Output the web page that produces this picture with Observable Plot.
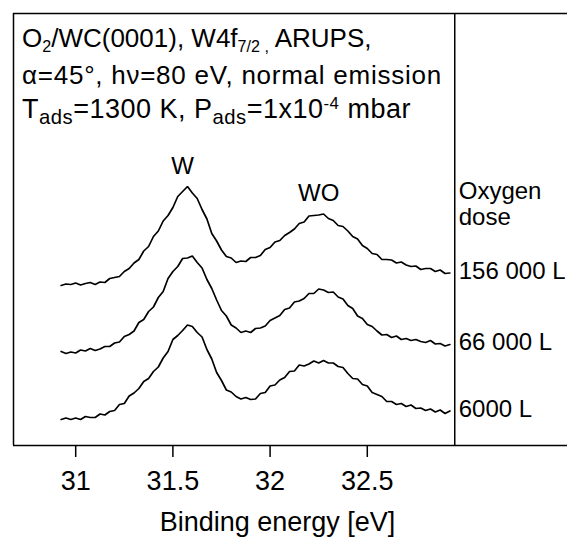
<!DOCTYPE html>
<html>
<head>
<meta charset="utf-8">
<script src="https://cdn.jsdelivr.net/npm/d3@7"></script>
<script src="https://cdn.jsdelivr.net/npm/@observablehq/plot@0.6"></script>
<style>
  body { margin: 0; background: #fff; }
  #chart { position: relative; width: 567px; height: 542px; font-family: "Liberation Sans", Arial, sans-serif; color: #000; }
  #note { position: absolute; left: 22px; top: 21px; font-size: 26px; line-height: 34px; white-space: nowrap; }
  #note .l2 { letter-spacing: 0.75px; }
  #note .l3 { font-size: 27px; letter-spacing: 0.5px; }
  .sb { font-size: 0.62em; position: relative; top: 0.32em; }
  .l3 .sb { font-size: 0.75em; top: 0.3em; }
  .sp { font-size: 0.62em; position: relative; top: -0.55em; }
</style>
</head>
<body>
<div id="chart">
  <div id="note"><span class="l1">O<span class="sb">2</span>/WC(0001), W4f<span class="sb">7/2 ,</span> ARUPS,</span><br><span class="l2">α=45°, hν=80 eV, normal emission</span><br><span class="l3">T<span class="sb">ads</span>=1300 K, P<span class="sb">ads</span>=1x10<span class="sp">-4</span> mbar</span></div>
</div>
<script>
// W4f7/2 photoemission spectra, offset vertically, one per oxygen dose.
// Energies run from 30.925 eV to 32.925 eV in 0.025 eV steps.
const eStart = 30.925;
const eStep = 0.025;

// Intensities (arb. units, including the vertical offset of each spectrum)
const dose156000 = [160,161.5,161,162.5,160.5,162,163,161,163.5,163,
  167,168,169,174,177,182.5,186,194.5,199,209,
  214.5,224.5,230,238,249,254,259,252.5,247,236,
  226.5,212,204.5,195.5,189,187.5,183,184.5,184,188,
  188,190,196,198,203.5,205,210,213,216.5,222,
  223.5,229.5,230,230.5,231.5,227,225,220,219,214.5,
  209,206.5,200,197,192,191,186,186,185.5,182.5,
  183.5,180.5,179,179.5,176,177,177,174,175.5,172,
  172.5];
const dose66000 = [94,92,93.5,92.5,95.5,94.5,97,95,96.5,99,
  99,102.5,103.5,109,111,114.5,123,126,134,138.5,
  148,154,167,174,179,187,187.5,189.5,183,177.5,
  166,157,145.5,135,129.5,120.5,117.5,113,114.5,113,
  117,117.5,119.5,125,127.5,130,136,137.5,143.5,144.5,
  147,152,152,156.5,155.5,153,153.5,148.5,146.5,140,
  137,129.5,127,121,119,114.5,110.5,111,108,109.5,
  106,107,105,106,104,103,105,101.5,102,99.5,
  101];
const dose6000 = [26,27.5,26,27.5,26,29,28,28,31.5,30.5,
  34,35,41,42,49.5,52.5,57,64,67,74,
  78.5,87.5,94,106,110,115,120.5,119,113,108.5,
  96,86.5,73,65,55.5,53.5,49,46.5,48,46,
  46.5,52,53,59.5,60.5,65.5,68,74,74.5,80.5,
  79.5,81.5,84.5,82.5,85,82.5,82.5,79,78,72,
  67,66.5,61,59.5,53,51,49,44,44,41,
  42,39,40.5,37,37.5,35,36.5,33.5,35.5,32,
  34.5];

const doseLabels = ["156 000 L", "66 000 L", "6000 L"];
const doseSeries = [dose156000, dose66000, dose6000];

// Peak assignments, labelled above the top spectrum
const peakNames = ["W", "WO"];
const peakEnergies = [31.55, 32.25];

const xTicks = [31, 31.5, 32, 32.5];
const xDomain = [30.68, 33.53];
const yDomain = [0, 432];
const spectrumEnd = 32.95;

// Long-format table for the line mark
const rows = [];
doseSeries.forEach((values, k) => {
  values.forEach((v, i) => {
    rows.push({dose: doseLabels[k], energy: +(eStart + i * eStep).toFixed(3), intensity: v});
  });
});

const topSeries = dose156000;
const peaks = peakNames.map((name, k) => {
  const i = Math.round((peakEnergies[k] - eStart) / eStep);
  return {name, energy: peakEnergies[k], level: d3.max(topSeries.slice(Math.max(0, i - 1), i + 2))};
});
const ends = doseLabels.map((label, k) => ({label, level: doseSeries[k][doseSeries[k].length - 1]}));

const font = '"Liberation Sans", Arial, sans-serif';

const chart = Plot.plot({
  width: 567,
  height: 542,
  marginLeft: 13,
  marginRight: 0,
  marginTop: 13,
  marginBottom: 97,
  style: {fontFamily: font, background: "white", color: "black", overflow: "visible"},
  x: {domain: xDomain, axis: null},
  y: {domain: yDomain, axis: null},
  marks: [
    Plot.ruleY(yDomain, {stroke: "black", strokeWidth: 1.5}),
    Plot.ruleX([xDomain[0], spectrumEnd], {stroke: "black", strokeWidth: 1.5}),
    Plot.axisX({ticks: xTicks, tickSize: 12, tickPadding: 13, fontSize: 27, tickFormat: d => String(d), strokeWidth: 1.5, label: null}),
    Plot.line(rows, {x: "energy", y: "intensity", z: "dose", stroke: "black", strokeWidth: 1.7, strokeLinejoin: "miter"}),
    Plot.text(peaks, {x: "energy", y: "level", text: "name", lineAnchor: "bottom", dy: -13, fontSize: 24, fill: "black"}),
    Plot.text(ends, {x: () => spectrumEnd, y: "level", text: "label", textAnchor: "start", dx: 4, dy: -2, fontSize: 24, fill: "black"}),
    Plot.text(["Oxygen\ndose"], {x: () => spectrumEnd, frameAnchor: "top", textAnchor: "start", lineAnchor: "top", lineHeight: 1.08, dx: 4, dy: 167, fontSize: 24, fill: "black"}),
    Plot.text(["Binding energy [eV]"], {frameAnchor: "bottom", lineAnchor: "top", dx: -13, dy: 66, fontSize: 27, fill: "black"})
  ]
});

document.getElementById("chart").prepend(chart);
</script>
</body>
</html>
